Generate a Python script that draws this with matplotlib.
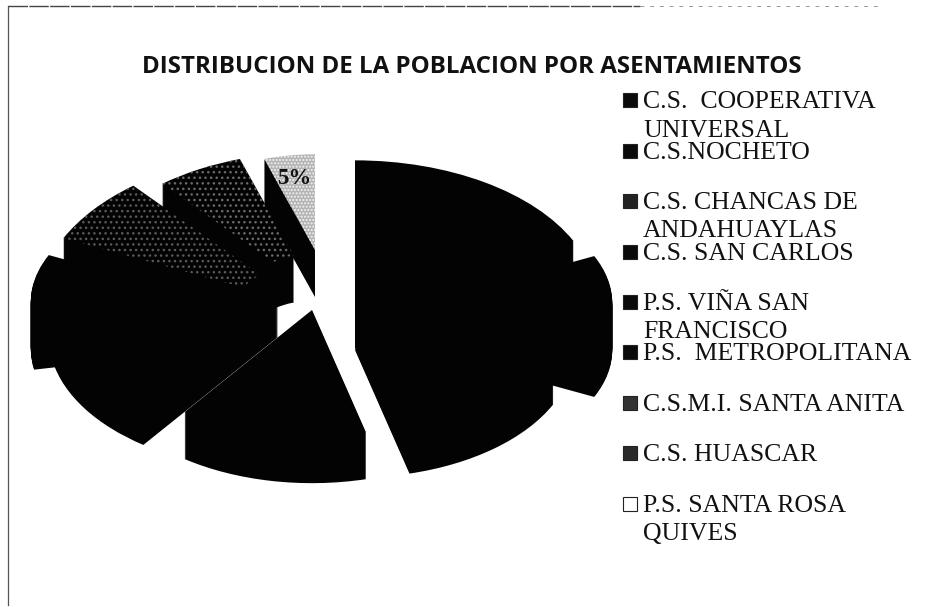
#!/usr/bin/env python3
"""Exploded 3D-look pie of population by settlement (scanned black and white)."""

import matplotlib
matplotlib.use('Agg')
import matplotlib.pyplot as plt
from matplotlib.patches import Rectangle, Wedge

W, H = 928, 607

TITLE = 'DISTRIBUCION DE LA POBLACION POR ASENTAMIENTOS'
labels = [
    'C.S.  COOPERATIVA\nUNIVERSAL',
    'C.S.NOCHETO',
    'C.S. CHANCAS DE\nANDAHUAYLAS',
    'C.S. SAN CARLOS',
    'P.S. VIÑA SAN\nFRANCISCO',
    'P.S.  METROPOLITANA',
    'C.S.M.I. SANTA ANITA',
    'C.S. HUASCAR',
    'P.S. SANTA ROSA\nQUIVES',
]
shares = [18, 14, 14, 14, 12, 10, 7, 6, 5]

face_colors = ['#030303', '#030303', '#030303', '#030303', '#030303',
               '#030303', '#030303', '#030303', '#b4b4b4']
hatch_colors = [None, None, None, None, None, None, '#5a5a5a', '#6a6a6a', '#f2f2f2']
hatches = [None, None, None, None, None, None, '...', '...', '.....']

# where each exploded slice sits, in image pixels, and its radius
apex_x = [355, 423, 355, 312, 278, 220, 300, 313, 315]
apex_y = [301, 303, 303, 310, 290, 302, 303, 290, 250]
radius = [0.97, 0.76, 0.88, 0.87, 0.92, 0.76, 1.05, 0.95, 0.66]
ring = [None, None, None, None, None, None, 0.8, 0.7, None]
RX, RY = 249, 145
DEPTH = 47

fig = plt.figure(figsize=(W / 100, H / 100), dpi=100, facecolor='white')
ax = fig.add_axes([0, 0, 1, 1])
# data unit = one pie radius, so the wedges come out as ellipses
ax.set_xlim(0, W / RX)
ax.set_ylim(H / RY, 0)
ax.axis('off')


def pie_wedge(i, t1, t2, dy, color, hatch=None, hatch_color='none'):
    # y axis is inverted, so the angles are mirrored for the Wedge
    return Wedge((apex_x[i] / RX, (apex_y[i] + dy) / RY), radius[i], -t1, -t2,
                 width=ring[i], facecolor=color, edgecolor=hatch_color,
                 hatch=hatch, linewidth=0)


# clockwise from 12 o'clock
angles = []
start = 90.0
for s in shares:
    end = start - 360.0 * s / sum(shares)
    angles.append((start, end))
    start = end

draw_order = [8, 7, 6, 5, 4, 3, 2, 1, 0]
for i in draw_order:
    t1, t2 = angles[i]
    for dy in range(DEPTH, 0, -1):
        ax.add_patch(pie_wedge(i, t1, t2, dy, '#030303'))
    ax.add_patch(pie_wedge(i, t1, t2, 0, face_colors[i], hatches[i], hatch_colors[i] or 'none'))

ax.text(294 / RX, 178 / RY, '5%', family='Liberation Serif', fontweight='bold',
        fontsize=16.5, ha='center', va='center', color='#111111')

ax.text(472 / RX, 67 / RY, TITLE, family='Open Sans', fontweight='bold', fontsize=17.4,
        ha='center', va='center', color='#111111')

# legend: even pitch, so wrapped labels run into the next entry like the original
LEG_Y0, LEG_PITCH = 100.4, 50.4
swatches = ['#0a0a0a', '#0a0a0a', '#222222', '#0a0a0a', '#0a0a0a', '#0a0a0a',
            '#333333', '#2a2a2a', 'white']
for i, lab in enumerate(labels):
    y = LEG_Y0 + i * LEG_PITCH
    ax.add_patch(Rectangle((623 / RX, (y - 7) / RY), 14 / RX, 14 / RY,
                           facecolor=swatches[i], edgecolor='#222222', linewidth=0.8))
    ax.text(643 / RX, (y - 9) / RY, lab, family='Liberation Serif', fontsize=18.5,
            ha='left', va='top', color='#111111', linespacing=1.36)

# broken scan frame, left and top only
ax.plot([8 / RX, 8 / RX], [6 / RY, 605 / RY], color='#555555', lw=0.9)
ax.plot([8 / RX, 640 / RX], [6 / RY, 6 / RY], color='#444444', lw=1.0, ls=(0, (14, 1)))
ax.plot([640 / RX, 880 / RX], [6 / RY, 6 / RY], color='#999999', lw=0.7, ls=(0, (4, 6)))

fig.savefig('out.png', dpi=100, facecolor='white')
